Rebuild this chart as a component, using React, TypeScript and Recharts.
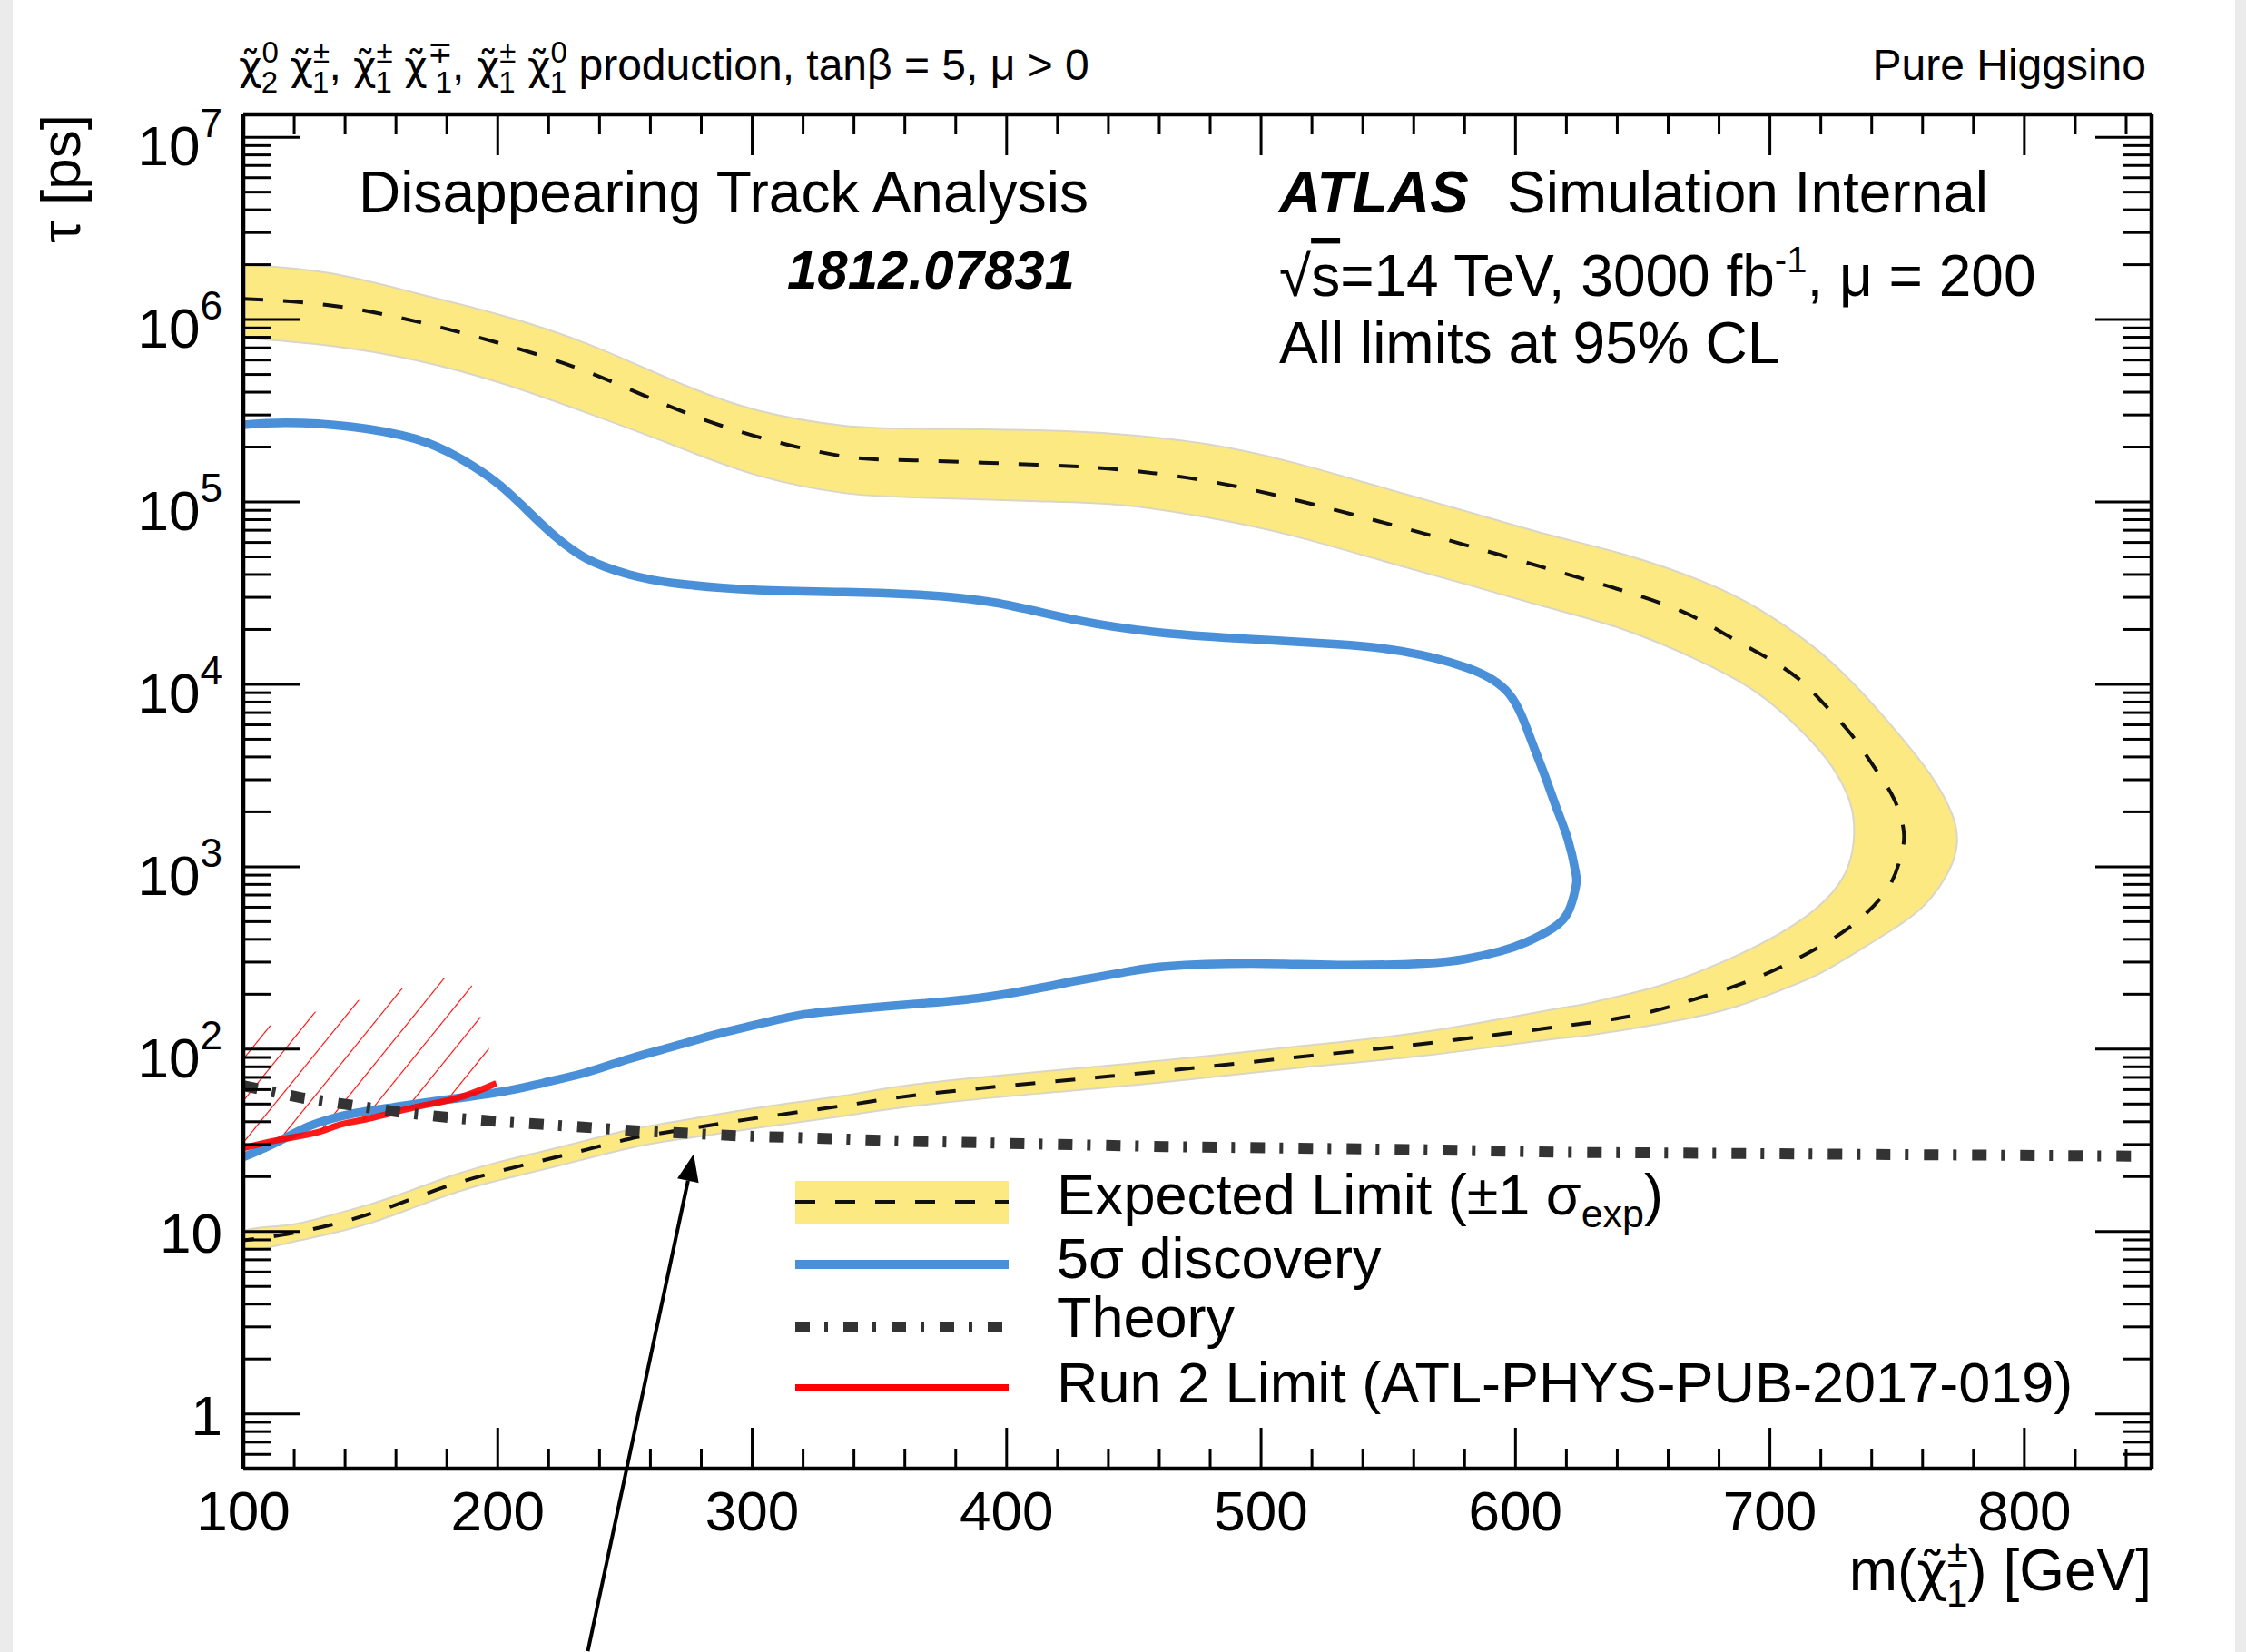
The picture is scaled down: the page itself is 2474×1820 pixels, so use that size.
import React from 'react';
import { ComposedChart, XAxis, YAxis, Line, Scatter, ReferenceLine, Legend } from 'recharts';

const FONT = '"Liberation Sans", Arial, Helvetica, sans-serif';
const YELLOW = '#fde982';
const BLUE = '#4a90d9';
const RED = '#ff0000';
const THEORY = '#333333';
const CHI = '\u03C7\u0303';
const THEORY_DASH = '16 16 4 17';

// [m(chi1) GeV, tau ps]
const bandOuter: [number, number][] = [
  [100, 2.0e6], [133.6, 1.8e6], [167.5, 1.4e6], [201, 1.06e6], [234.8, 7.4e5], [268.6, 4.66e5],
  [302, 3.18e5], [336, 2.62e5], [364, 2.52e5], [412, 2.47e5], [445.7, 2.34e5], [479.3, 2.07e5],
  [513, 1.64e5], [546.8, 1.21e5], [580.5, 8.9e4], [611.4, 6.7e4], [642, 5.19e4], [672.5, 3.72e4],
  [695.4, 2.6e4], [718.2, 1.56e4], [736.6, 8.9e3], [751.9, 5.07e3], [764.1, 3.04e3], [771.7, 1.92e3],
  [773.5, 1.34e3], [770.1, 938], [761, 622], [748.8, 458], [733.5, 337], [718.2, 254], [703, 207],
  [687.7, 173], [672.5, 152], [657.2, 138], [642, 127], [626.7, 118], [611.4, 112], [563.7, 92],
  [513, 78.5], [462.5, 66], [412, 57], [364.8, 49], [336, 43], [302.3, 37], [268.5, 31.6],
  [251.7, 28.6], [234.8, 25.1], [218, 21.9], [201.1, 19.2], [184.3, 16.5], [167.4, 13.6],
  [150.6, 11.2], [133.7, 9.7], [116.9, 8.6], [100, 8.0],
];
const bandInner: [number, number][] = [
  [100, 10.0], [116.9, 10.8], [133.7, 12.2], [150.6, 14.2], [167.4, 17.1], [184.3, 20.7],
  [201.1, 24.2], [218, 27.6], [234.8, 31.6], [251.7, 36.1], [268.5, 39.8], [302.3, 47.6],
  [336, 55.6], [364.8, 64.3], [412, 75], [462.5, 87], [513, 103], [563.7, 124], [611.4, 162],
  [626.7, 176], [642, 197], [657.2, 224], [672.5, 267], [687.7, 329], [703, 424], [718.2, 591],
  [729, 889], [732.8, 1340], [732, 2120], [724.4, 3540], [712.1, 5600], [695.4, 8900],
  [672.5, 1.34e4], [642, 2.01e4], [611.4, 2.67e4], [580.5, 3.54e4], [546.8, 4.8e4], [513, 6.5e4],
  [479.3, 8.2e4], [445.7, 9.6e4], [412, 1.01e5], [364, 1.06e5], [336, 1.12e5], [302, 1.4e5],
  [268.6, 2.06e5], [234.8, 3.09e5], [201, 4.5e5], [167.5, 6.0e5], [133.6, 7.2e5], [100, 7.96e5],
];
const expected: [number, number][] = [
  [100, 1.3e6], [133.6, 1.2e6], [167.5, 9.8e5], [201, 7.4e5], [234.8, 5.2e5], [268.6, 3.3e5],
  [302, 2.28e5], [336, 1.78e5], [364, 1.69e5], [412, 1.6e5], [445.7, 1.5e5], [479.3, 1.3e5],
  [513, 1.03e5], [546.8, 7.8e4], [580.5, 5.8e4], [619.1, 4.06e4], [642, 3.27e4], [664.9, 2.53e4],
  [681.6, 1.91e4], [696.9, 1.45e4], [710.6, 1.09e4], [721.3, 7.8e3], [732, 5.3e3], [741.1, 3.5e3],
  [748.8, 2.35e3], [752.6, 1.56e3], [751.5, 1.15e3], [747.3, 800], [738.1, 560], [725.9, 413],
  [710.6, 312], [695.4, 248], [680.1, 207], [664.9, 178], [649.6, 156], [634.3, 143], [619.1, 134],
  [563.7, 107], [513, 90], [462.5, 76], [412, 65.3], [364.8, 56], [336, 49], [302.3, 42],
  [268.5, 35.4], [251.7, 32.2], [234.8, 28.1], [218, 24.6], [201.1, 21.5], [184.3, 18.5],
  [167.4, 15.3], [150.6, 12.6], [133.7, 10.8], [116.9, 9.66], [100, 8.95],
];
const discovery: [number, number][] = [
  [100, 2.65e5], [116.8, 2.72e5], [142, 2.59e5], [167.5, 2.22e5], [184.3, 1.76e5], [201, 1.23e5],
  [217.9, 7.4e4], [234.8, 4.9e4], [251.7, 4.0e4], [268.6, 3.6e4], [302, 3.29e4], [336, 3.21e4],
  [364, 3.11e4], [395, 2.81e4], [428.9, 2.23e4], [462.5, 1.91e4], [496.3, 1.77e4], [530, 1.66e4],
  [555.2, 1.52e4], [580.5, 1.24e4], [597.4, 8.9e3], [605.8, 5.1e3], [611.4, 3.19e3], [616, 2.12e3],
  [620.6, 1.41e3], [623.6, 937], [623.6, 764], [620.6, 561], [614.3, 457], [604.1, 385], [594, 344],
  [580.5, 312], [563.7, 295], [530, 289], [496.3, 295], [462.5, 284], [445.7, 263], [428.9, 239],
  [412, 215], [388.4, 190], [364.3, 177], [336, 164], [319.1, 154], [302.3, 137], [285.4, 120],
  [268.5, 103], [251.7, 88.5], [234.8, 74.5], [218, 65.3], [201.1, 58.2], [175.9, 51.9], [159, 48],
  [143.8, 44.5], [133.7, 41.2], [125.3, 37.5], [116.9, 32.8], [108.4, 28.7], [100, 25.6],
];
const theory: [number, number][] = [
  [100, 63], [123.6, 53.9], [143.8, 49], [162.4, 44.9], [181.8, 42], [201.1, 40], [219.7, 38.5],
  [258.4, 35.4], [296.4, 33.4], [334.3, 32.2], [364, 31.2], [462.5, 29.2], [563.7, 28.1],
  [617.5, 27.2], [718, 26.6], [845, 25.9],
];
const run2: [number, number][] = [
  [100, 28.7], [113.5, 31.7], [128.6, 34.8], [137.1, 38.2], [150.6, 42], [167.4, 48], [184.3, 54], [199.4, 65],
];
const run2HatchTop: [number, number][] = [
  [100, 122], [126, 157], [152, 197], [178.4, 246], [188.5, 253], [191, 197], [197, 95], [199.4, 65],
];
const arrowSeg: [number, number][] = [[235.4, 0.05], [277, 26.6]];

const xMajor = [100, 200, 300, 400, 500, 600, 700, 800];
const yMajor = [1, 10, 100, 1e3, 1e4, 1e5, 1e6, 1e7];

const xTicks: number[] = [];
for (let v = 100; v <= 840; v += 20) xTicks.push(v);
const yTicks: number[] = [0.6, 0.7, 0.8, 0.9];
for (let e = 0; e <= 6; e++) for (let m = 1; m <= 9; m++) yTicks.push(m * Math.pow(10, e));
yTicks.push(1e7);

const pts = (a: [number, number][]) => a.map(([x, y]) => ({ x, y }));
const bandData = pts([...bandOuter, ...bandInner]);
const hatchData = pts([...run2HatchTop, ...run2.slice(0, -1).reverse()]);

const isMajorY = (v: number) => yMajor.some((m) => Math.abs(v / m - 1) < 1e-9);

const BottomTick = (p: any) => {
  const v = p.payload.value;
  const major = xMajor.includes(v);
  return (
    <g>
      <line x1={p.x} x2={p.x} y1={p.y} y2={p.y - (major ? 45 : 22)} stroke="#000" strokeWidth={3} />
      {major && (
        <text x={p.x} y={p.y + 68} textAnchor="middle" fontSize={62} fontFamily={FONT} fill="#000">{v}</text>
      )}
    </g>
  );
};
const TopTick = (p: any) => {
  const major = xMajor.includes(p.payload.value);
  return <line x1={p.x} x2={p.x} y1={p.y} y2={p.y + (major ? 45 : 22)} stroke="#000" strokeWidth={3} />;
};
const LeftTick = (p: any) => {
  const v = p.payload.value;
  const major = isMajorY(v);
  const e = Math.round(Math.log10(v));
  return (
    <g>
      <line x1={p.x} x2={p.x + (major ? 62 : 31)} y1={p.y} y2={p.y} stroke="#000" strokeWidth={3} />
      {major && e < 2 && (
        <text x={p.x - 23} y={p.y + 23} textAnchor="end" fontSize={62} fontFamily={FONT} fill="#000">{v}</text>
      )}
      {major && e >= 2 && (
        <text x={p.x - 23} y={p.y + 31} textAnchor="end" fontSize={62} fontFamily={FONT} fill="#000">
          10<tspan fontSize={44} dy={-31}>{e}</tspan>
        </text>
      )}
    </g>
  );
};
const RightTick = (p: any) => {
  const major = isMajorY(p.payload.value);
  return <line x1={p.x} x2={p.x - (major ? 62 : 31)} y1={p.y} y2={p.y} stroke="#000" strokeWidth={3} />;
};

const Arrow = (p: any) => {
  const { x1, y1, x2, y2 } = p;
  const a = Math.atan2(y2 - y1, x2 - x1);
  const L = 30, W = 12;
  const bx = x2 - L * Math.cos(a), by = y2 - L * Math.sin(a);
  const nx = -Math.sin(a) * W, ny = Math.cos(a) * W;
  return (
    <g>
      <line x1={x1} y1={y1} x2={bx} y2={by} stroke="#000" strokeWidth={4} />
      <polygon points={`${x2},${y2} ${bx + nx},${by + ny} ${bx - nx},${by - ny}`} fill="#000" />
    </g>
  );
};

const legendRows = [
  { name: 'Expected Limit (±1 σ', sub: 'exp', after: ')' },
  { name: '5σ discovery' },
  { name: 'Theory' },
  { name: 'Run 2 Limit (ATL-PHYS-PUB-2017-019)' },
];

const LegendBox = () => (
  <svg width={1320} height={280} style={{ overflow: 'visible' }}>
    <rect x={6} y={11} width={235} height={48} fill={YELLOW} />
    <line x1={6} x2={241} y1={34} y2={34} stroke="#111" strokeWidth={4} strokeDasharray="22 22" />
    <line x1={6} x2={241} y1={103} y2={103} stroke={BLUE} strokeWidth={10} />
    <line x1={6} x2={241} y1={172} y2={172} stroke={THEORY} strokeWidth={12} strokeDasharray={THEORY_DASH} />
    <line x1={6} x2={241} y1={239} y2={239} stroke={RED} strokeWidth={8} />
    {legendRows.map((r, i) => (
      <text key={r.name} x={294} y={[48, 118, 183, 255][i]} fontSize={63} fontFamily={FONT} fill="#000">
        {r.name}
        {r.sub && <tspan fontSize={43} dy={14}>{r.sub}</tspan>}
        {r.after && <tspan dy={-14}>{r.after}</tspan>}
      </text>
    ))}
  </svg>
);

const header = [
  { sup: '0', sub: '2', after: ' ' },
  { sup: '±', sub: '1', after: ', ' },
  { sup: '±', sub: '1', after: ' ' },
  { sup: '∓', sub: '1', after: ', ' },
  { sup: '±', sub: '1', after: ' ' },
  { sup: '0', sub: '1', after: ' production, tanβ = 5, μ > 0' },
];

const axisLine = { stroke: '#000', strokeWidth: 4.5 };

export default function App() {
  return (
    <div style={{ position: 'absolute', left: 0, top: 0, width: 2474, height: 1820, background: '#fff', overflow: 'hidden' }}>
      <div style={{ position: 'absolute', left: 0, top: 0, width: 14, height: 1820, background: '#ebebeb' }} />
      <div style={{ position: 'absolute', left: 2462, top: 0, width: 12, height: 1820, background: '#ebebeb' }} />
      <div style={{ position: 'absolute', left: 0, top: 0 }}>
        <ComposedChart width={2474} height={1820} margin={{ top: 125, right: 103, bottom: 201, left: 267 }}>
          <defs>
            <pattern id="run2hatch" width={29} height={29} patternUnits="userSpaceOnUse" patternTransform="rotate(39)">
              <line x1={14.5} y1={0} x2={14.5} y2={29} stroke={RED} strokeWidth={1.1} />
            </pattern>
          </defs>
          <Scatter xAxisId="b" yAxisId="l" data={bandData} fill="none" shape={() => <g />} zIndex={100}
            line={{ fill: YELLOW, stroke: '#d9d6c8', strokeWidth: 2 }} lineJointType="natural" isAnimationActive={false} />
          <Line xAxisId="b" yAxisId="l" data={pts(expected)} dataKey="y" type="natural" stroke="#111" strokeWidth={4}
            strokeDasharray="22 22" dot={false} activeDot={false} zIndex={400} isAnimationActive={false} />
          <Scatter xAxisId="b" yAxisId="l" data={hatchData} fill="none" shape={() => <g />} zIndex={410}
            line={{ fill: 'url(#run2hatch)', stroke: 'none' }} lineJointType="linear" isAnimationActive={false} />
          <Line xAxisId="b" yAxisId="l" data={pts(discovery)} dataKey="y" type="natural" stroke={BLUE} strokeWidth={9.5}
            dot={false} activeDot={false} zIndex={420} isAnimationActive={false} />
          <Line xAxisId="b" yAxisId="l" data={pts(run2)} dataKey="y" type="natural" stroke={RED} strokeWidth={7}
            strokeOpacity={0.9} dot={false} activeDot={false} zIndex={430} isAnimationActive={false} />
          <Line xAxisId="b" yAxisId="l" data={pts(theory)} dataKey="y" type="linear" stroke={THEORY} strokeWidth={12}
            strokeDasharray={THEORY_DASH} dot={false} activeDot={false} zIndex={440} isAnimationActive={false} />
          <ReferenceLine xAxisId="b" yAxisId="l" ifOverflow="visible" zIndex={2000}
            segment={arrowSeg.map(([x, y]) => ({ x, y }))} shape={Arrow} />
          <XAxis xAxisId="b" dataKey="x" type="number" domain={[100, 850]} allowDataOverflow ticks={xTicks} interval={0}
            height={1} tickSize={0} tickMargin={0} tickLine={false} axisLine={axisLine} tick={BottomTick} />
          <XAxis xAxisId="t" orientation="top" dataKey="x" type="number" domain={[100, 850]} allowDataOverflow ticks={xTicks}
            interval={0} height={1} tickSize={0} tickMargin={0} tickLine={false} axisLine={axisLine} tick={TopTick} />
          <YAxis yAxisId="l" dataKey="y" type="number" scale="log" domain={[0.501, 1.334e7]} allowDataOverflow ticks={yTicks}
            interval={0} width={1} tickSize={0} tickMargin={0} tickLine={false} axisLine={axisLine} tick={LeftTick} />
          <YAxis yAxisId="r" orientation="right" dataKey="y" type="number" scale="log" domain={[0.501, 1.334e7]} allowDataOverflow
            ticks={yTicks} interval={0} width={1} tickSize={0} tickMargin={0} tickLine={false} axisLine={axisLine} tick={RightTick} />
          <Legend layout="vertical" align="center" verticalAlign="middle" content={() => <LegendBox />}
            wrapperStyle={{ position: 'absolute', left: 870, top: 1290, width: 1320, height: 280 }} />
        </ComposedChart>
      </div>
      <svg width={2474} height={1820} style={{ position: 'absolute', left: 0, top: 0, pointerEvents: 'none' }}
        fontFamily={FONT} fill="#000">
        <text x={263} y={88} fontSize={48}>
          {header.flatMap((h, i) => [
            <tspan key={'c' + i} fontFamily="DejaVu Sans" fontSize={44}>{CHI}</tspan>,
            <tspan key={'p' + i} fontSize={33} dy={-19}>{h.sup}</tspan>,
            <tspan key={'b' + i} fontSize={33} dx={-19} dy={33}>{h.sub}</tspan>,
            <tspan key={'a' + i} dy={-14}>{h.after}</tspan>,
          ])}
        </text>
        <text x={2364} y={88} fontSize={48} textAnchor="end">Pure Higgsino</text>
        <text x={395} y={234} fontSize={64}>Disappearing Track Analysis</text>
        <text x={1184} y={318} fontSize={60} fontWeight="bold" fontStyle="italic" textAnchor="end">1812.07831</text>
        <text x={1409} y={234} fontSize={64} fontWeight="bold" fontStyle="italic">ATLAS</text>
        <text x={1660} y={234} fontSize={64}>Simulation Internal</text>
        <text x={1409} y={326} fontSize={64}>
          √<tspan textDecoration="overline">s</tspan>=14 TeV, 3000 fb<tspan fontSize={40} dy={-26}>-1</tspan>
          <tspan dy={26}>, μ = 200</tspan>
        </text>
        <text x={1409} y={400} fontSize={64}>All limits at 95% CL</text>
        <text x={2370} y={1752} fontSize={64} textAnchor="end">
          m(<tspan fontFamily="DejaVu Sans" fontSize={58}>{CHI}</tspan><tspan fontSize={42} dy={-26}>±</tspan>
          <tspan fontSize={42} dx={-24} dy={44}>1</tspan>
          <tspan dy={-18}>) [GeV]</tspan>
        </text>
        <text transform="translate(88,126) rotate(-90)" fontSize={62} textAnchor="end">τ [ps]</text>
      </svg>
    </div>
  );
}
